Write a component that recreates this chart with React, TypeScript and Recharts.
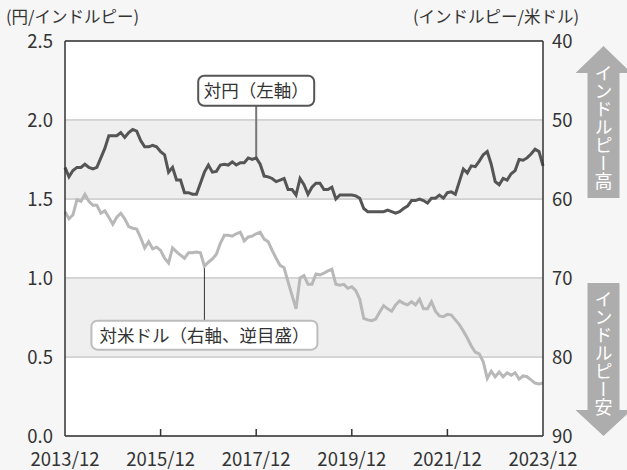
import {
  ComposedChart,
  Line,
  XAxis,
  YAxis,
  CartesianGrid,
  ReferenceArea,
  ReferenceLine,
  ReferenceDot,
} from 'recharts'

// monthly, 2013/12 .. 2023/12
const yenPerInr = [
  1.7, 1.64, 1.68, 1.7, 1.7, 1.72, 1.7, 1.69, 1.7, 1.76, 1.82, 1.9, 1.9, 1.9, 1.92, 1.89, 1.92, 1.94, 1.93,
  1.87, 1.83, 1.83, 1.84, 1.83, 1.8, 1.78, 1.67, 1.7, 1.62, 1.62, 1.54, 1.54, 1.53, 1.53, 1.6, 1.67, 1.715,
  1.67, 1.675, 1.715, 1.72, 1.715, 1.735, 1.715, 1.73, 1.73, 1.76, 1.75, 1.76, 1.72, 1.645, 1.64, 1.63, 1.61,
  1.62, 1.63, 1.56, 1.56, 1.525, 1.63, 1.59, 1.53, 1.575, 1.6, 1.6, 1.56, 1.56, 1.575, 1.5, 1.525, 1.525,
  1.525, 1.525, 1.52, 1.505, 1.44, 1.42, 1.42, 1.42, 1.42, 1.42, 1.43, 1.42, 1.41, 1.42, 1.44, 1.455, 1.49,
  1.49, 1.5, 1.49, 1.475, 1.505, 1.505, 1.525, 1.505, 1.54, 1.545, 1.53, 1.61, 1.69, 1.665, 1.71, 1.705,
  1.74, 1.78, 1.8, 1.72, 1.61, 1.59, 1.63, 1.62, 1.66, 1.68, 1.75, 1.745, 1.76, 1.785, 1.815, 1.8, 1.71,
]

const inrPerUsd = [
  61.6, 62.5, 62.0, 60.1, 60.3, 59.4, 60.3, 60.8, 60.8, 61.8, 61.5, 62.3, 63.2, 62.3, 61.8, 62.5, 63.5, 63.7,
  63.8, 64.9, 66.2, 65.4, 66.3, 66.1, 66.5, 67.5, 68.1, 66.2, 66.7, 67.1, 67.5, 66.8, 66.8, 66.7, 66.8, 68.5,
  68.0, 67.6, 67.0, 65.6, 64.6, 64.6, 64.7, 64.4, 64.2, 65.3, 64.8, 64.7, 64.4, 64.2, 65.1, 65.4, 66.5, 67.5,
  68.4, 68.7, 70.5, 72.2, 73.9, 70.0, 69.7, 70.8, 70.8, 69.5, 69.6, 69.4, 69.1, 68.9, 70.8, 70.9, 70.8, 71.3,
  71.1, 71.6, 72.7, 75.1, 75.3, 75.4, 75.2, 74.3, 73.5, 73.9, 74.2, 73.4, 72.9, 73.2, 73.4, 73.0, 73.4, 72.7,
  73.9, 73.9, 73.0, 74.2, 74.8, 74.9, 74.6, 74.7, 75.3, 75.9, 76.7, 77.6, 78.6, 79.4, 79.6, 80.6, 82.7, 81.8,
  82.5, 81.9, 82.5, 82.0, 82.3, 82.0, 82.8, 82.4, 82.5, 82.9, 83.3, 83.4, 83.3,
]

const xTicks = [0, 24, 48, 72, 96, 120]
const xTickLabels = ['2013/12', '2015/12', '2017/12', '2019/12', '2021/12', '2023/12']
const leftTicks = [0, 0.5, 1, 1.5, 2, 2.5]
const rightTicks = [40, 50, 60, 70, 80, 90]

const data = yenPerInr.map((yen, m) => ({ m, yen, usd: inrPerUsd[m] }))

const FONT = "'Noto Sans CJK JP', 'Noto Sans', sans-serif"
const INK = '#333'

function XTick({ x, y, payload }: any) {
  const i = xTicks.indexOf(payload.value)
  const isEnd = payload.value === 0 || payload.value === 120
  return (
    <g>
      {!isEnd && <line x1={x} x2={x} y1={y} y2={y - 7} stroke={INK} strokeWidth={1.5} />}
      <text x={x} y={y + 30} textAnchor="middle" fontSize={18.5} fill={INK}>
        {xTickLabels[i]}
      </text>
    </g>
  )
}

function YenCallout({ cx, cy }: any) {
  return (
    <g>
      <rect x={cx - 58} y={cy - 30} width={116} height={30} rx={6} fill="#fff" stroke="#555" strokeWidth={2} />
      <text x={cx} y={cy - 9} textAnchor="middle" fontSize={17.5} fill={INK}>
        対円（左軸）
      </text>
    </g>
  )
}

function UsdCallout({ cx, cy }: any) {
  return (
    <g>
      <rect x={cx - 113} y={cy} width={226} height={29} rx={6} fill="#fff" stroke="#bdbdbd" strokeWidth={2} />
      <text x={cx} y={cy + 21} textAnchor="middle" fontSize={17.5} fill={INK}>
        対米ドル（右軸、逆目盛）
      </text>
    </g>
  )
}

export default function App() {
  return (
    <div
      style={{
        position: 'absolute',
        left: 0,
        top: 0,
        width: 627,
        height: 470,
        background: '#f6f6f6',
        fontFamily: FONT,
        overflow: 'hidden',
      }}
    >
      <ComposedChart width={627} height={470} data={data} margin={{ top: 41, right: 0, left: 0, bottom: 0 }}>
        <CartesianGrid
          yAxisId="left"
          vertical={false}
          fill="#fff"
          stroke="#cfcfcf"
          strokeWidth={1.5}
        />
        <ReferenceArea yAxisId="left" y1={1.5} y2={2} fill="#efefef" fillOpacity={1} stroke="none" />
        <ReferenceArea yAxisId="left" y1={0.5} y2={1} fill="#efefef" fillOpacity={1} stroke="none" />
        <ReferenceLine yAxisId="left" y={2} stroke="#cfcfcf" strokeWidth={1.5} />
        <ReferenceLine yAxisId="left" y={1.5} stroke="#cfcfcf" strokeWidth={1.5} />
        <ReferenceLine yAxisId="left" y={1} stroke="#cfcfcf" strokeWidth={1.5} />
        <ReferenceLine yAxisId="left" y={0.5} stroke="#cfcfcf" strokeWidth={1.5} />
        <ReferenceLine yAxisId="left" y={2.5} stroke={INK} strokeWidth={1.5} />
        <XAxis
          dataKey="m"
          type="number"
          domain={[0, 120]}
          ticks={xTicks}
          height={34}
          tickSize={0}
          tickMargin={0}
          tickLine={false}
          axisLine={{ stroke: INK, strokeWidth: 1.5 }}
          tick={<XTick />}
          interval={0}
        />
        <YAxis
          yAxisId="left"
          domain={[0, 2.5]}
          ticks={leftTicks}
          width={65}
          tickSize={0}
          tickMargin={12}
          tickLine={false}
          axisLine={{ stroke: INK, strokeWidth: 1.5 }}
          tick={{ fontSize: 18.5, fill: INK }}
          tickFormatter={(v: number) => v.toFixed(1)}
          interval={0}
        />
        <YAxis
          yAxisId="right"
          orientation="right"
          domain={[40, 90]}
          reversed
          ticks={rightTicks}
          width={84}
          tickSize={0}
          tickMargin={9}
          tickLine={false}
          axisLine={{ stroke: INK, strokeWidth: 1.5 }}
          tick={{ fontSize: 18.5, fill: INK }}
          interval={0}
        />
        <ReferenceLine
          yAxisId="left"
          segment={[
            { x: 48, y: yenPerInr[48] },
            { x: 48, y: 2.09 },
          ]}
          stroke="#777"
          strokeWidth={2}
        />
        <ReferenceLine
          yAxisId="right"
          segment={[
            { x: 35, y: inrPerUsd[35] },
            { x: 35, y: 75.4 },
          ]}
          stroke={INK}
          strokeWidth={1}
        />
        <Line
          yAxisId="right"
          dataKey="usd"
          stroke="#b8b8b8"
          strokeWidth={3}
          dot={false}
          activeDot={false}
          isAnimationActive={false}
        />
        <Line
          yAxisId="left"
          dataKey="yen"
          stroke="#555"
          strokeWidth={3}
          dot={false}
          activeDot={false}
          isAnimationActive={false}
        />
        <ReferenceDot yAxisId="left" x={48} y={2.09} r={1} shape={(p: any) => <YenCallout cx={p.cx} cy={p.cy} />} />
        <ReferenceDot yAxisId="right" x={35} y={75.4} r={1} shape={(p: any) => <UsdCallout cx={p.cx} cy={p.cy} />} />
      </ComposedChart>
      <svg
        width={627}
        height={470}
        style={{ position: 'absolute', left: 0, top: 0, pointerEvents: 'none' }}
      >
        <text x={6} y={23} fontSize={16.5} fill={INK}>
          (円/インドルピー)
        </text>
        <text x={579} y={23} fontSize={16.5} fill={INK} textAnchor="end">
          (インドルピー/米ドル)
        </text>
        <polygon
          points="603.5,46 631.5,73 619.5,73 619.5,198 587.5,198 587.5,73 575.5,73"
          fill="#adadad"
        />
        <text x={603.5} y={64} fontSize={18} fill="#fff" style={{ writingMode: 'vertical-rl' }}>
          インドルピー高
        </text>
        <polygon
          points="587.5,283 619.5,283 619.5,410 631.5,410 603.5,436 575.5,410 587.5,410"
          fill="#adadad"
        />
        <text x={603.5} y={290} fontSize={18} fill="#fff" style={{ writingMode: 'vertical-rl' }}>
          インドルピー安
        </text>
      </svg>
    </div>
  )
}
